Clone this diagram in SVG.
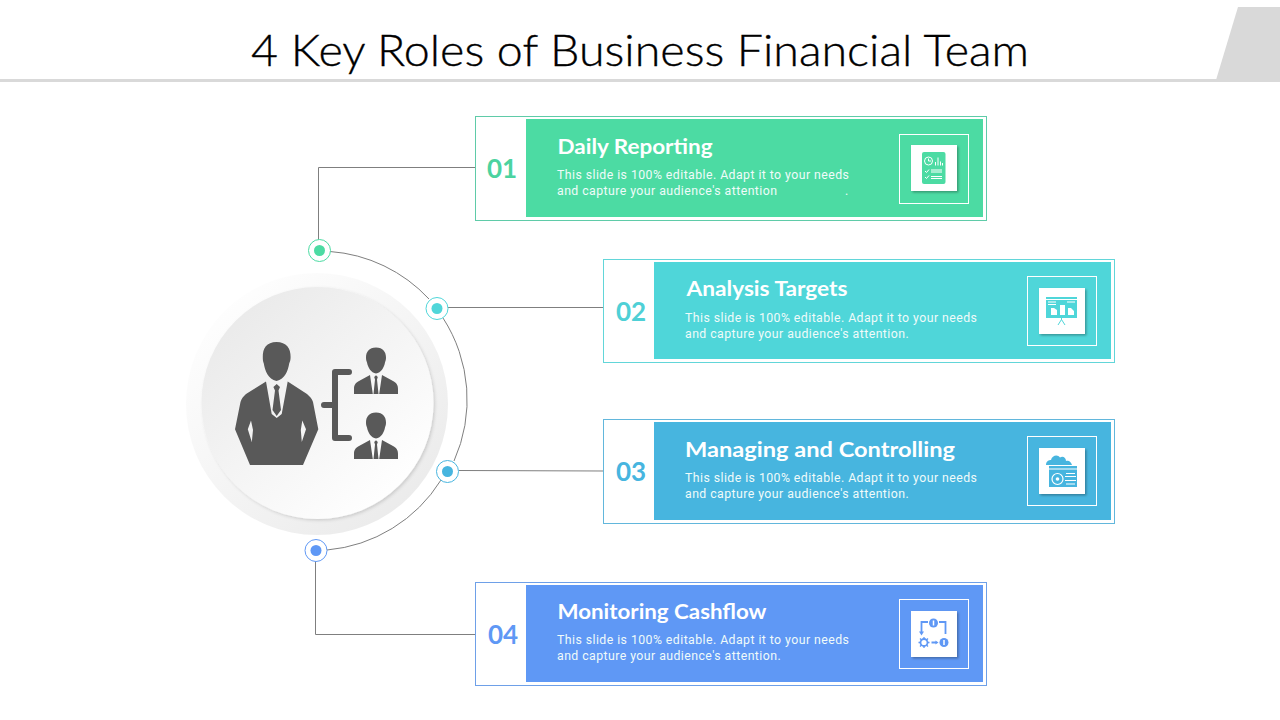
<svg xmlns="http://www.w3.org/2000/svg" width="1280" height="720" viewBox="0 0 1280 720">
<style>
.title{font-family:"Lato","Liberation Sans",sans-serif;font-size:44px;font-weight:300;fill:#000;stroke:#000;stroke-width:.35px}
.head{font-family:"Lato","Liberation Sans",sans-serif;font-size:21px;font-weight:700;fill:#fff}
.body{font-family:"Roboto","Liberation Sans",sans-serif;font-size:12.3px;fill:#f0fbfa;letter-spacing:.44px}
.num{font-family:"Lato","Liberation Sans",sans-serif;font-size:26px;font-weight:700;text-anchor:middle}
.frame{fill:none;stroke:#fff;stroke-width:1}
.sq{fill:#fff;filter:url(#sqs)}
.outer{fill:#fff;stroke-width:1}
.link{fill:none;stroke:#7f7f7f;stroke-width:1}
.ring{fill:#fff;stroke-width:1}
.ic{fill:none;stroke:#fff;stroke-width:1}
.sil{fill:#595959}
</style>
<defs>
<linearGradient id="discOut" x1="0.15" y1="0.1" x2="0.85" y2="0.9"><stop offset="0" stop-color="#fefefe"/><stop offset="1" stop-color="#ebebeb"/></linearGradient>
<linearGradient id="discIn" x1="0.15" y1="0.1" x2="0.85" y2="0.9"><stop offset="0" stop-color="#eaeaea"/><stop offset="1" stop-color="#ffffff"/></linearGradient>
<filter id="sqs" x="-20%" y="-20%" width="150%" height="150%"><feDropShadow dx="1.5" dy="1.5" stdDeviation="1.2" flood-color="#000" flood-opacity=".3"/></filter>
<filter id="ds" x="-10%" y="-10%" width="125%" height="125%"><feDropShadow dx="1.500" dy="1.500" stdDeviation="1.800" flood-color="#000" flood-opacity=".14"/></filter>
<symbol id="small" viewBox="0 0 44 47" width="44" height="47" overflow="visible">
<path class="sil" d="M22 0C15 0 12 4.500 12 10C12 12 12.400 13.500 13 15C14 20 17 25.500 22 26C27 25.500 30 20 31 15C31.600 13.500 32 12 32 10C32 4.500 29 0 22 0Z"/>
<path class="sil" d="M0 46.500V41.500C0 37.500 1.500 35.500 5 33.500L16 27.500L18.800 46.500ZM44 46.500V41.500C44 37.500 42.500 35.500 39 33.500L28 27.500L25.200 46.500Z"/>
<path class="sil" d="M20.200 29.500L22 27.800L23.800 29.500L23 32L24.500 46.500H19.500L21 32Z"/>
</symbol>
</defs>

<g id="header">
<path d="M1238 7H1280V80H1216Z" fill="#d9d9d9"/>
<rect x="0" y="79" width="1280" height="3" fill="#d9d9d9"/>
<text class="title" x="640" y="66" text-anchor="middle" textLength="778" lengthAdjust="spacingAndGlyphs">4 Key Roles of Business Financial Team</text>
</g>

<g id="connectors">
<path class="link" d="M318.500 240V167.500H475"/>
<path class="link" d="M448 307.500H604"/>
<path class="link" d="M459 470.500L604 471"/>
<path class="link" d="M315.500 561V634.500H475"/>
<path class="link" d="M330 251.500A150 150 0 0 1 429 299"/>
<path class="link" d="M443 318A150 150 0 0 1 454 461"/>
<path class="link" d="M441 480A150 150 0 0 1 327 550"/>
</g>

<g id="hub">
<circle cx="317" cy="404" r="131" fill="url(#discOut)"/>
<circle cx="317.500" cy="403" r="116" fill="url(#discIn)" filter="url(#ds)"/>
<path class="sil" d="M276.500 342C266.500 342 262.600 348.500 262.800 357C262.800 360 263 361.500 263.800 363.500C265 371 268 379 276.500 381C285 379 288 371 289.200 363.500C290 361.500 290.600 360 290.600 357C290.800 348.500 286.500 342 276.500 342Z"/>
<path class="sil" d="M266 381.500L271.700 414L276.700 418L281.700 414L287.700 381.500L307 394C310 396.500 312 399 313 402L318.300 429.300L303 465H250L235 429.300L240.500 402C241.500 399 243 396.500 246 394ZM251 420.500L247.800 429.300L251.800 442L253 430ZM302.300 420.500L306 429.300L301.800 442L300.800 430Z" fill-rule="evenodd"/>
<path class="sil" d="M276.700 384L280 387L278.500 390.500L281 410L276.700 416L272.500 410L275 390.500L273.400 387Z"/>
<path d="M349 372H335V438H349M335 405H324" fill="none" stroke="#595959" stroke-width="6" stroke-linecap="round" stroke-linejoin="round"/>
<use href="#small" x="354" y="347.500"/>
<use href="#small" x="354" y="412.500"/>
</g>

<g id="dot-1"><circle class="ring" cx="319.500" cy="250.500" r="11" stroke="#4cdba3"/><circle cx="319.500" cy="250.500" r="5.500" fill="#4cdba3"/></g>
<g id="dot-2"><circle class="ring" cx="437" cy="308.500" r="11" stroke="#4fd6d9"/><circle cx="437" cy="308.500" r="5.500" fill="#4fd6d9"/></g>
<g id="dot-3"><circle class="ring" cx="447.500" cy="471.500" r="11" stroke="#47b5df"/><circle cx="447.500" cy="471.500" r="5.500" fill="#47b5df"/></g>
<g id="dot-4"><circle class="ring" cx="316" cy="550.500" r="11" stroke="#5f98f5"/><circle cx="316" cy="550.500" r="5.500" fill="#5f98f5"/></g>

<g id="card-1">
<rect class="outer" x="475.500" y="116.500" width="511" height="104" stroke="#5fcba8"/>
<rect x="526" y="119" width="457" height="98" fill="#4cdba3"/>
<text class="num" x="502" y="178" fill="#4cd3a0">01</text>
<text class="head" x="557.500" y="154" textLength="155" lengthAdjust="spacingAndGlyphs">Daily Reporting</text>
<text class="body" x="557" y="179">This slide is 100% editable. Adapt it to your needs</text>
<text class="body" x="557" y="195">and capture your audience's attention<tspan x="845">.</tspan></text>
<rect class="frame" x="899.500" y="134.500" width="69" height="69"/>
<rect class="sq" x="911" y="145" width="46" height="46"/>
<rect x="922" y="152" width="23.500" height="32" rx="2" fill="#4cdba3"/>
<circle class="ic" cx="928.500" cy="161" r="4"/>
<path class="ic" d="M928.500 158.500V161H931M935.500 165.500V162M938 165.500V157.500M940.500 165.500V161.500M942.500 165.500V163M925 171L926.500 172.500L929 169.500M925 177L926.500 178.500L929 175.500M931 170H942M931 172H942M931 176.500H942M931 178.500H942"/>
</g>

<g id="card-2">
<rect class="outer" x="603.500" y="259.500" width="511" height="103" stroke="#62d6d9"/>
<rect x="654" y="262" width="457" height="97" fill="#4fd6d9"/>
<text class="num" x="631" y="321" fill="#4fd0d6">02</text>
<text class="head" x="686.500" y="296" textLength="161" lengthAdjust="spacingAndGlyphs">Analysis Targets</text>
<text class="body" x="685" y="322">This slide is 100% editable. Adapt it to your needs</text>
<text class="body" x="685" y="338">and capture your audience's attention.</text>
<rect class="frame" x="1027.500" y="276.500" width="69" height="69"/>
<rect class="sq" x="1039" y="288" width="46" height="46"/>
<rect x="1046" y="297" width="31" height="21" fill="#4fd6d9"/>
<path d="M1046 299.500H1077M1048 302H1056M1048 304.500H1056M1067 302H1075" fill="none" stroke="#fff" stroke-width="1"/>
<path d="M1051 308H1054L1057 310V315H1051ZM1060 305H1065V315H1060ZM1068 308H1071L1074 311V315H1068Z" fill="#fff"/>
<path d="M1061.500 318V320M1061.500 319.500L1058 325M1061.500 319.500L1065 325" fill="none" stroke="#4fd6d9" stroke-width="1"/>
</g>

<g id="card-3">
<rect class="outer" x="603.500" y="419.500" width="511" height="104" stroke="#62b7dc"/>
<rect x="654" y="422" width="457" height="98" fill="#47b5df"/>
<text class="num" x="631" y="481" fill="#47b5df">03</text>
<text class="head" x="685" y="457" textLength="270" lengthAdjust="spacingAndGlyphs">Managing and Controlling</text>
<text class="body" x="685" y="482">This slide is 100% editable. Adapt it to your needs</text>
<text class="body" x="685" y="498">and capture your audience's attention.</text>
<rect class="frame" x="1027.500" y="436.500" width="69" height="69"/>
<rect class="sq" x="1039" y="448" width="46" height="46"/>
<path d="M1046 465C1046 461 1049 460 1051 460C1052 455 1058 454 1060 457.500C1063 455.500 1066 458 1066 461C1069 460 1071 462 1072 465Z" fill="#47b5df"/>
<path d="M1049 466H1077V487H1049Z" fill="#47b5df"/>
<rect x="1049" y="468.500" width="28" height="1" fill="#fff"/>
<circle cx="1057.500" cy="479" r="5.500" fill="none" stroke="#fff" stroke-width="1.200"/>
<circle cx="1057.500" cy="479" r="1.800" fill="#fff"/>
<path d="M1066 473.500H1075M1065 476.500H1076M1065 480.500H1076M1066 484H1075" fill="none" stroke="#fff" stroke-width="1.200"/>
</g>

<g id="card-4">
<rect class="outer" x="475.500" y="582.500" width="511" height="103" stroke="#6ea0e8"/>
<rect x="526" y="585" width="457" height="97" fill="#5f98f5"/>
<text class="num" x="503" y="644" fill="#5f98f5">04</text>
<text class="head" x="557.500" y="619" textLength="209" lengthAdjust="spacingAndGlyphs">Monitoring Cashflow</text>
<text class="body" x="557" y="644">This slide is 100% editable. Adapt it to your needs</text>
<text class="body" x="557" y="660">and capture your audience's attention.</text>
<rect class="frame" x="899.500" y="599.500" width="69" height="69"/>
<rect class="sq" x="911" y="611" width="46" height="46"/>
<circle cx="933.500" cy="623" r="4.500" fill="#5f98f5"/>
<circle cx="944" cy="642.500" r="4.500" fill="#5f98f5"/>
<path d="M933.500 620.500V625.500M944 640V645" stroke="#fff" stroke-width="1.500" fill="none"/>
<circle cx="924" cy="642.500" r="3.500" fill="none" stroke="#5f98f5" stroke-width="1.800"/>
<path d="M924 637V639M924 646V648M918.500 642.500H920.500M927.500 642.500H929.500M920 638.500L921.500 640M926.500 645L928 646.500M928 638.500L926.500 640M921.500 645L920 646.500" stroke="#5f98f5" stroke-width="1.300" fill="none"/>
<path d="M928 622H921.500V632M939 622H945.500V634M931.500 642.500H936" stroke="#5f98f5" stroke-width="1.800" fill="none"/>
<path d="M919 631.500H924L921.500 635.500ZM935.500 640.500L938.500 642.500L935.500 644.500Z" fill="#5f98f5"/>
</g>
</svg>
